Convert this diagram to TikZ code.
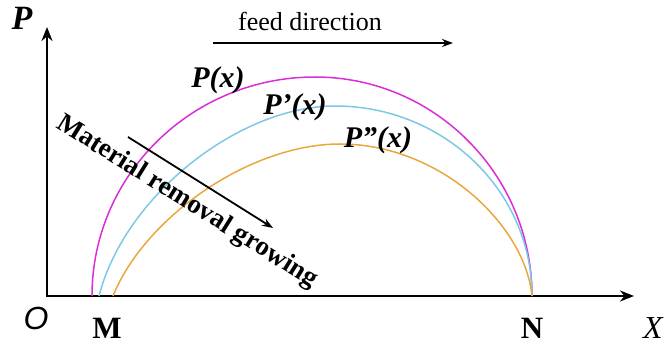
\documentclass[tikz,border=0pt]{standalone}
\usepackage{fontspec}
\setmainfont{Liberation Serif}
\newfontfamily\axisfont{Liberation Sans}
\usetikzlibrary{arrows.meta}

\definecolor{curveP}{RGB}{218,45,218}
\definecolor{curvePa}{RGB}{125,200,228}
\definecolor{curvePb}{RGB}{232,168,62}

\begin{document}
\begin{tikzpicture}[
        x=1pt, y=1pt,
        >={Stealth[length=14pt,width=11pt]},
        axis/.style={line width=2.8pt},
        curve/.style={line width=1.5pt},
        pointlbl/.style={font=\fontsize{31}{36}\selectfont\bfseries},
        fname/.style={font=\fontsize{30}{34}\selectfont\bfseries\itshape},
        guide/.style={line width=1.8pt, -{Stealth[length=11pt,width=8pt]}}
    ]
    \useasboundingbox (0,0) rectangle (666,345);

    % Axes
    \coordinate (O) at (47,49);
    \coordinate (Ptip) at (47,318);
    \coordinate (Xtip) at (634,49);
    \draw[axis,<->] (Ptip) -- (O) -- (Xtip);

    % Axis labels
    \node[font=\fontsize{34}{38}\selectfont\bfseries\itshape] (Plabel) at (22,327) {P};
    \node[font=\fontsize{32}{36}\selectfont\axisfont\itshape] (Olabel) at (36,27) {O};
    \node[pointlbl] (Mlabel) at (107,17) {M};
    \node[pointlbl] (Nlabel) at (532,17) {N};
    \node[font=\fontsize{32}{36}\selectfont\itshape] (Xlabel) at (653,17) {X};

    % P(x)
    \draw[curve, curveP] (92,49)
        arc[start angle=180, end angle=90, x radius=223, y radius=219]
        arc[start angle=90, end angle=0, x radius=217, y radius=219];

    % P'(x)
    \draw[curve, curvePa] (99,49) .. controls (125,150) and (240,239) .. (335,239)
        .. controls (444,239) and (532,154) .. (532,49);

    % P''(x)
    \draw[curve, curvePb] (113,49) .. controls (145,128) and (250,201) .. (340,201)
        .. controls (440,201) and (525,120) .. (532,49);

    % Curve labels
    \node[fname] (fP) at (218,265) {P(x)};
    \node[fname] (fPa) at (295,238) {P’(x)};
    \node[fname] (fPb) at (378,205) {P”(x)};

    % Feed direction
    \coordinate (feedA) at (213,302);
    \coordinate (feedB) at (453,302);
    \draw[guide] (feedA) -- (feedB);
    \node[anchor=base, font=\fontsize{26}{30}\selectfont] (feed) at (310,314) {feed direction};

    % Material removal
    \coordinate (remA) at (128,208);
    \coordinate (remB) at (273,117);
    \draw[guide] (remA) -- (remB);
    \node[rotate=-32, font=\fontsize{27}{31}\selectfont\bfseries] (removal) at (187,143) {Material removal growing};

\end{tikzpicture}
\end{document}
